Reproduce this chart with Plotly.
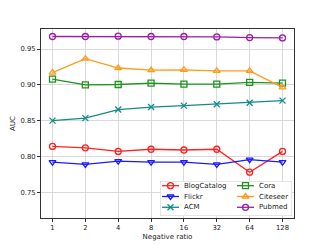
import math
import plotly.graph_objects as go

ratios = [1, 2, 4, 8, 16, 32, 64, 128]
tick_labels = ["1", "2", "4", "8", "16", "32", "64", "128"]
y_ticks = [0.75, 0.80, 0.85, 0.90, 0.95]

blogcatalog = [0.814, 0.812, 0.807, 0.810, 0.809, 0.810, 0.778, 0.807]
flickr = [0.792, 0.789, 0.7935, 0.792, 0.792, 0.789, 0.7955, 0.792]
acm = [0.850, 0.8535, 0.8655, 0.869, 0.871, 0.873, 0.875, 0.878]
cora = [0.908, 0.900, 0.9005, 0.9025, 0.901, 0.901, 0.9035, 0.9025]
citeseer = [0.917, 0.9365, 0.9235, 0.9205, 0.921, 0.9195, 0.9195, 0.8965]
pubmed = [0.9675, 0.9675, 0.968, 0.9675, 0.9675, 0.967, 0.966, 0.9655]

names = ["BlogCatalog", "Flickr", "ACM", "Cora", "Citeseer", "Pubmed"]
values = [blogcatalog, flickr, acm, cora, citeseer, pubmed]
colors = ["#ff2020", "#1a1aff", "#138a8a", "#1f931f", "#ff9a1a", "#9a1fa6"]
symbols = ["circle-open", "triangle-down-open", "x-thin-open",
           "square-open", "triangle-up-open", "circle-open"]

fig = go.Figure()
for name, vals, color, sym in zip(names, values, colors, symbols):
    fig.add_trace(go.Scatter(
        x=ratios, y=vals, name=name, mode="lines+markers",
        line=dict(color=color, width=1.3),
        marker=dict(symbol=sym, size=6, color=color, line=dict(color=color, width=1.3)),
        showlegend=False,
    ))

# Compact two-column legend (matplotlib style) drawn on an overlay axis
# whose units are pixels inside the legend box.
BOX_X0, BOX_X1, BOX_Y0, BOX_Y1 = 160, 292, 181, 216
PLOT_L, PLOT_R, PLOT_T, PLOT_B = 41, 294, 29, 218
col_x = [162, 237]
row_y = [185.7, 196.5, 207.3]
line_len = 17
for i, (name, color, sym) in enumerate(zip(names, colors, symbols)):
    cx = col_x[i // 3]
    ry = row_y[i % 3]
    fig.add_trace(go.Scatter(
        x=[cx, cx + line_len / 2, cx + line_len], y=[ry, ry, ry],
        mode="lines", line=dict(color=color, width=1.3),
        xaxis="x2", yaxis="y2", showlegend=False, hoverinfo="skip",
    ))
    fig.add_trace(go.Scatter(
        x=[cx + line_len / 2], y=[ry], mode="markers",
        marker=dict(symbol=sym, size=6, color=color, line=dict(color=color, width=1.3)),
        xaxis="x2", yaxis="y2", showlegend=False, hoverinfo="skip",
    ))
    fig.add_annotation(
        x=cx + line_len + 3, y=ry, xref="x2", yref="y2", text=name,
        showarrow=False, xanchor="left", yanchor="middle",
        font=dict(family="DejaVu Sans", size=7, color="#222222"),
    )

font = dict(family="DejaVu Sans", size=6.8, color="#222222")
lo = -0.35 * math.log10(2)
hi = 7.35 * math.log10(2)
W, H = 327, 245

fig.update_layout(
    width=W, height=H,
    margin=dict(l=PLOT_L, r=W - PLOT_R, t=PLOT_T, b=H - PLOT_B),
    paper_bgcolor="white", plot_bgcolor="white",
    font=font,
    xaxis=dict(
        type="log", range=[lo, hi], tickvals=ratios, ticktext=tick_labels,
        showgrid=True, gridcolor="#d9d9d9", gridwidth=1,
        showline=True, linecolor="#333333", linewidth=1, mirror=True,
        ticks="outside", ticklen=3, tickcolor="#333333", tickfont=font,
        title=dict(text="Negative ratio", font=dict(family="DejaVu Sans", size=7, color="#222222"), standoff=2),
        zeroline=False, automargin=False,
    ),
    yaxis=dict(
        range=[0.714, 0.978], tickvals=y_ticks, tickformat=".2f",
        showgrid=True, gridcolor="#d9d9d9", gridwidth=1,
        showline=True, linecolor="#333333", linewidth=1, mirror=True,
        ticks="outside", ticklen=3, tickcolor="#333333", tickfont=font,
        title=dict(text="AUC", font=dict(family="DejaVu Sans", size=7, color="#222222"), standoff=4),
        zeroline=False, automargin=False,
    ),
    xaxis2=dict(
        domain=[(BOX_X0 - PLOT_L) / (PLOT_R - PLOT_L), (BOX_X1 - PLOT_L) / (PLOT_R - PLOT_L)],
        range=[BOX_X0, BOX_X1], visible=False, fixedrange=True, anchor="y2",
    ),
    yaxis2=dict(
        domain=[(PLOT_B - BOX_Y1) / (PLOT_B - PLOT_T), (PLOT_B - BOX_Y0) / (PLOT_B - PLOT_T)],
        range=[BOX_Y1, BOX_Y0], visible=False, fixedrange=True, anchor="x2",
    ),
    shapes=[dict(
        type="rect", xref="x2", yref="y2",
        x0=BOX_X0, x1=BOX_X1, y0=BOX_Y0, y1=BOX_Y1,
        line=dict(color="#cccccc", width=1), fillcolor="rgba(255,255,255,0.9)",
        layer="between",
    )],
    showlegend=False,
)

fig.write_html(
    "out.html",
    config={"displayModeBar": False},
    post_script="document.body.style.margin='0';document.body.style.overflow='hidden';",
)
